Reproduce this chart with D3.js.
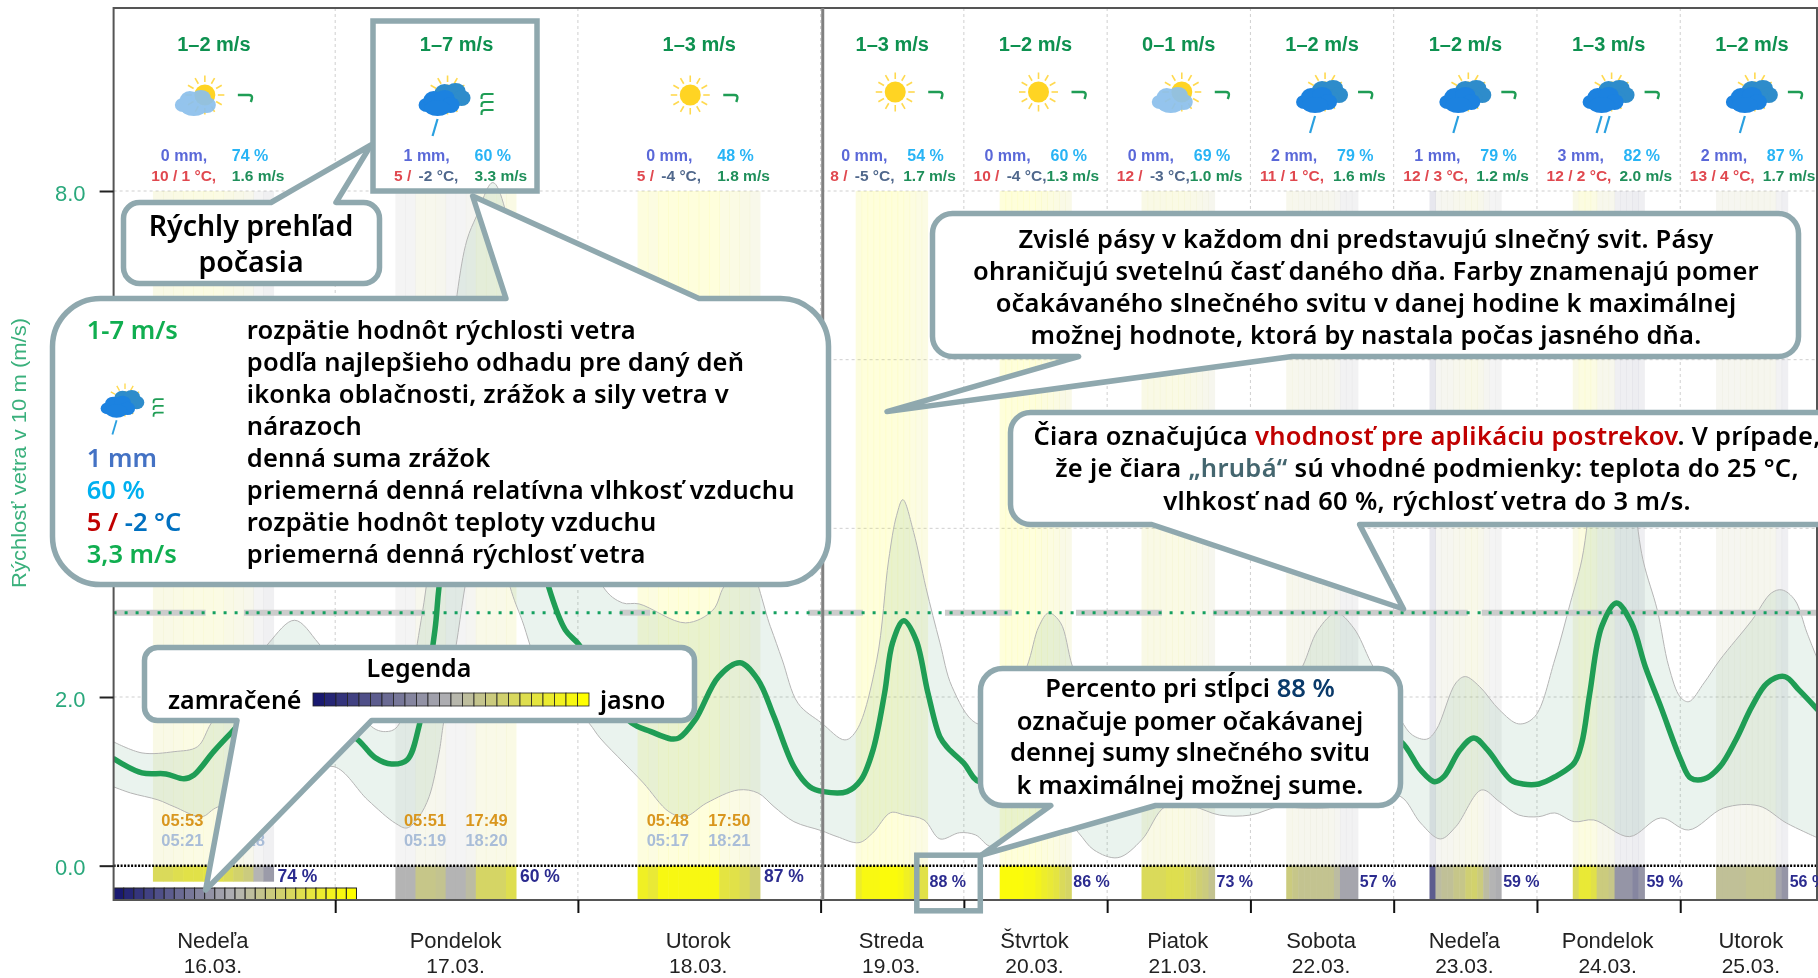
<!DOCTYPE html>
<html>
<head>
<meta charset="utf-8">
<script src="https://cdn.jsdelivr.net/npm/d3@7"></script>
<style>
  html, body { margin: 0; padding: 0; background: #fff; overflow: hidden; }
  text { font-family: "Liberation Sans", sans-serif; }
  .note text { font-family: "Noto Sans", sans-serif; font-weight: 600; fill: #000; }
</style>
</head>
<body>
<div id="chart"></div>
<script>
let dayNames = ['Nedeľa', 'Pondelok', 'Utorok', 'Streda', 'Štvrtok', 'Piatok', 'Sobota', 'Nedeľa', 'Pondelok', 'Utorok']
let dayDates = ['16.03.', '17.03.', '18.03.', '19.03.', '20.03.', '21.03.', '22.03.', '23.03.', '24.03.', '25.03.']
let windRange = ['1–2', '1–7', '1–3', '1–3', '1–2', '0–1', '1–2', '1–2', '1–3', '1–2']
let rainMm = [0, 1, 0, 0, 0, 0, 2, 1, 3, 2]
let humidity = [74, 60, 48, 54, 60, 69, 79, 79, 82, 87]
let tempHigh = [10, 5, 5, 8, 10, 12, 11, 12, 12, 13]
let tempLow = [1, -2, -4, -5, -4, -3, 1, 3, 2, 4]
let windAvg = ['1.6', '3.3', '1.8', '1.7', '1.3', '1.0', '1.6', '1.2', '2.0', '1.7']
let sunPercent = [74, 60, 87, 88, 86, 73, 57, 59, 59, 56]
let iconType = ['light', 'dark', 'sun', 'sun', 'sun', 'light', 'dark', 'dark', 'dark', 'dark']
let rainStreaks = [0, 1, 0, 0, 0, 0, 1, 1, 2, 1]
let barbCount = [1, 3, 1, 1, 1, 1, 1, 1, 1, 1]

let sunriseTimes = ['05:53', '05:51', '05:48']
let sunsetTimes = ['17:47', '17:49', '17:50']
let dawnTimes = ['05:21', '05:19', '05:17']
let duskTimes = ['18:18', '18:20', '18:21']

// sun band edges, in days since 16.03. 00:00
let sunStart = [0.249, 1.248, 2.246, 3.245, 4.25, 5.24, 6.25, 7.25, 8.25, 9.25]
let sunEnd = [0.746, 1.745, 2.75, 3.747, 4.75, 5.75, 6.75, 7.75, 8.75, 9.75]

// sunshine ratio for each daylight hour
let sunRatios = [
  [0.75, 0.75, 0.78, 0.8, 0.8, 0.82, 0.8, 0.75, 0.7, 0.65, 0.5, 0.42],
  [0.5, 0.5, 0.62, 0.62, 0.6, 0.5, 0.5, 0.55, 0.72, 0.72, 0.72, 0.78],
  [0.9, 0.85, 0.95, 0.95, 0.95, 0.95, 0.95, 0.95, 0.82, 0.8, 0.75, 0.68],
  [0.88, 0.95, 0.95, 0.95, 0.97, 0.97, 0.97, 0.95, 0.9, 0.85, 0.8, 0.8],
  [0.97, 0.97, 0.97, 0.97, 0.95, 0.95, 0.92, 0.88, 0.85, 0.82, 0.75, 0.72],
  [0.75, 0.75, 0.75, 0.75, 0.78, 0.78, 0.78, 0.75, 0.72, 0.68, 0.65, 0.6],
  [0.65, 0.62, 0.6, 0.6, 0.6, 0.6, 0.6, 0.6, 0.55, 0.45, 0.45, 0.45],
  [0.22, 0.55, 0.58, 0.58, 0.62, 0.62, 0.68, 0.7, 0.65, 0.55, 0.5, 0.48],
  [0.75, 0.85, 0.85, 0.8, 0.65, 0.65, 0.62, 0.4, 0.4, 0.4, 0.35, 0.4],
  [0.58, 0.58, 0.58, 0.58, 0.58, 0.6, 0.6, 0.6, 0.6, 0.6, 0.45, 0.4]
]

// thick stretches of the spraying line
let sprayStart = [0.093, 0.624, 2.173, 2.948, 3.868, 4.783, 5.738, 7.615]
let sprayEnd = [0.466, 1.37, 2.297, 3.295, 4.335, 5.383, 7.517, 9.965]

// wind speed, best estimate
let meanT = [0.085, 0.204, 0.303, 0.377, 0.418, 0.499, 0.571, 0.65, 0.75, 0.85, 0.95, 1.094, 1.166, 1.232, 1.296, 1.345, 1.411, 1.428, 1.52, 1.6, 1.68, 1.8, 1.879, 1.948, 2.005, 2.112, 2.221, 2.301, 2.384, 2.417, 2.483, 2.58, 2.668, 2.742, 2.808, 2.89, 2.955, 3.02, 3.184, 3.282, 3.366, 3.447, 3.502, 3.58, 3.666, 3.749, 3.832, 3.888, 3.998, 4.109, 4.3, 4.5, 4.7, 5.0, 5.25, 5.5, 5.8, 6.1, 6.45, 6.7, 6.9, 7.05, 7.188, 7.284, 7.35, 7.462, 7.56, 7.655, 7.818, 7.902, 8.013, 8.124, 8.26, 8.313, 8.369, 8.452, 8.555, 8.659, 8.756, 8.864, 9.004, 9.072, 9.168, 9.277, 9.388, 9.5, 9.609, 9.73, 9.828, 9.96]
let meanV = [1.274, 1.1, 1.088, 1.03, 1.076, 1.352, 1.574, 1.8, 1.9, 2.0, 1.8, 1.49, 1.278, 1.206, 1.254, 1.649, 2.796, 3.31, 5.2, 6.0, 5.8, 4.3, 3.31, 2.796, 2.618, 2.08, 1.693, 1.59, 1.503, 1.515, 1.728, 2.242, 2.405, 2.203, 1.767, 1.174, 0.937, 0.878, 0.878, 1.017, 1.372, 2.049, 2.642, 2.903, 2.678, 2.049, 1.53, 1.396, 1.218, 0.996, 1.2, 1.5, 1.45, 1.1, 0.85, 0.95, 1.0, 1.3, 1.75, 1.65, 1.55, 1.471, 1.135, 0.996, 1.056, 1.372, 1.515, 1.372, 1.017, 0.969, 0.969, 1.052, 1.218, 1.456, 2.049, 2.835, 3.116, 2.879, 2.361, 1.886, 1.254, 1.04, 1.028, 1.174, 1.491, 1.886, 2.167, 2.242, 2.084, 1.847]

// lower edge of the wind range
let lowT = [0.085, 0.157, 0.27, 0.336, 0.45, 0.507, 0.7, 0.85, 0.995, 1.134, 1.248, 1.296, 1.345, 1.387, 1.428, 1.444, 1.502, 1.535, 1.62, 1.72, 1.77, 1.85, 2.046, 2.091, 2.19, 2.27, 2.375, 2.441, 2.531, 2.661, 2.742, 2.808, 2.89, 3.006, 3.115, 3.268, 3.364, 3.489, 3.585, 3.722, 3.833, 3.971, 4.082, 4.193, 4.4, 4.55, 4.67, 4.8, 4.908, 5.075, 5.241, 5.406, 5.6, 5.785, 6.0, 6.2, 6.36, 6.6, 6.85, 7.05, 7.188, 7.325, 7.434, 7.614, 7.738, 7.873, 8.013, 8.124, 8.26, 8.397, 8.645, 8.864, 9.058, 9.304, 9.55, 9.741, 9.96]
let lowV = [0.937, 0.862, 0.78, 0.7, 0.581, 0.684, 0.9, 1.05, 1.174, 0.779, 0.503, 0.447, 0.581, 0.818, 1.337, 1.649, 2.68, 3.31, 4.6, 3.31, 2.91, 2.3, 1.69, 1.515, 1.218, 0.98, 0.64, 0.581, 0.744, 0.898, 0.862, 0.7, 0.522, 0.415, 0.344, 0.273, 0.388, 0.629, 0.601, 0.542, 0.317, 0.391, 0.364, 0.225, 0.4, 0.6, 0.62, 0.39, 0.186, 0.095, 0.305, 0.7, 0.7, 0.6, 0.6, 0.7, 0.684, 0.7, 0.85, 0.818, 0.506, 0.317, 0.463, 0.898, 0.759, 0.601, 0.581, 0.625, 0.522, 0.542, 0.344, 0.566, 0.423, 0.684, 0.708, 0.506, 0.329]

// upper edge of the wind range
let highT = [0.085, 0.204, 0.336, 0.433, 0.49, 0.6, 0.727, 0.833, 0.93, 1.04, 1.15, 1.207, 1.256, 1.354, 1.43, 1.502, 1.543, 1.582, 1.65, 1.75, 1.9, 2.103, 2.184, 2.252, 2.444, 2.556, 2.602, 2.69, 2.793, 2.842, 2.907, 3.006, 3.17, 3.253, 3.392, 3.475, 3.53, 3.574, 3.65, 3.735, 3.833, 3.917, 4.082, 4.25, 4.44, 4.523, 4.592, 4.675, 4.758, 4.9, 5.1, 5.25, 5.5, 5.8, 6.0, 6.2, 6.363, 6.47, 6.6, 6.72, 6.844, 7.05, 7.13, 7.23, 7.297, 7.434, 7.5, 7.6, 7.738, 7.873, 7.985, 8.124, 8.233, 8.313, 8.4, 8.5, 8.6, 8.74, 8.84, 8.92, 9.0, 9.06, 9.166, 9.277, 9.5, 9.636, 9.71, 9.8, 9.885, 9.96]
let highV = [1.471, 1.337, 1.352, 1.412, 1.693, 2.1, 2.642, 2.91, 2.642, 2.2, 1.649, 1.59, 1.649, 2.91, 4.7, 6.77, 7.42, 7.7, 8.1, 7.2, 5.2, 3.31, 3.116, 3.104, 2.879, 3.03, 3.31, 3.6, 2.835, 2.44, 1.926, 1.693, 1.491, 1.61, 2.44, 3.626, 4.15, 4.34, 3.95, 3.3, 2.642, 2.123, 1.693, 1.7, 2.361, 2.835, 2.997, 2.879, 2.361, 1.75, 1.5, 1.7, 1.8, 1.7, 1.75, 1.9, 2.361, 2.79, 2.997, 2.82, 2.4, 1.728, 1.55, 1.5, 1.61, 2.167, 2.242, 2.123, 1.847, 1.681, 1.768, 2.44, 3.116, 3.626, 4.6, 5.2, 5.0, 3.626, 3.03, 2.361, 2.0, 1.945, 2.167, 2.44, 2.91, 3.233, 3.27, 3.15, 2.76, 2.44]

let width = 1818
let height = 978

let svg = d3
  .select('#chart')
  .append('svg')
  .attr('width', width)
  .attr('height', height)
  .style('display', 'block')

let plot = { left: 113.6, right: 1817, top: 8, bottom: 900 }

// the first three days get more room than the rest
let x = d3.scaleLinear().domain([0, 3, 10]).range([92.5, 820.6, 1823.5])
let y = d3.scaleLinear().domain([-0.407, 10.17]).range([plot.bottom, plot.top])

let sunColor = d3
  .scaleLinear()
  .domain([0, 0.5, 1])
  .range(['#191970', '#b4b4b4', '#ffff00'])

let noteStroke = '#8fa8ae'
let green = '#1f9d55'

svg
  .append('defs')
  .append('clipPath')
  .attr('id', 'plot-clip')
  .append('rect')
  .attr('x', plot.left)
  .attr('y', plot.top)
  .attr('width', plot.right - plot.left)
  .attr('height', plot.bottom - plot.top)

let chart = svg.append('g').style('filter', 'blur(0.4px)')

// grid
chart
  .selectAll('.grid-y')
  .data([2, 4, 6, 8])
  .enter()
  .append('line')
  .attr('class', 'grid-y')
  .attr('x1', plot.left)
  .attr('x2', plot.right)
  .attr('y1', d => y(d))
  .attr('y2', d => y(d))
  .attr('stroke', '#cfcfcf')
  .attr('stroke-dasharray', '3,3')

chart
  .selectAll('.grid-x')
  .data(d3.range(1, 10))
  .enter()
  .append('line')
  .attr('class', 'grid-x')
  .attr('x1', d => x(d))
  .attr('x2', d => x(d))
  .attr('y1', plot.top)
  .attr('y2', plot.bottom)
  .attr('stroke', '#cfcfcf')
  .attr('stroke-dasharray', '3,3')

// sunshine bands, pale above zero and full colour below it
sunRatios.forEach((ratios, i) => {
  let step = (sunEnd[i] - sunStart[i]) / ratios.length
  let band = chart.append('g')
  band
    .selectAll('.pale')
    .data(ratios)
    .enter()
    .append('rect')
    .attr('x', (d, h) => x(sunStart[i] + h * step))
    .attr('width', x(sunStart[i] + step) - x(sunStart[i]) + 0.5)
    .attr('y', y(8))
    .attr('height', y(0) - y(8))
    .attr('fill', d => sunColor(d))
    .attr('opacity', 0.15)
  band
    .selectAll('.strong')
    .data(ratios)
    .enter()
    .append('rect')
    .attr('x', (d, h) => x(sunStart[i] + h * step))
    .attr('width', x(sunStart[i] + step) - x(sunStart[i]) + 0.5)
    .attr('y', y(0))
    .attr('height', i === 0 ? y(-0.19) - y(0) : y(-0.4) - y(0))
    .attr('fill', d => sunColor(d))
})

// wind
let windLine = d3
  .line()
  .x(d => x(d[0]))
  .y(d => y(d[1]))
  .curve(d3.curveCatmullRom.alpha(0.5))

let highPoints = d3.zip(highT, highV)
let lowPoints = d3.zip(lowT, lowV).reverse()

let wind = chart.append('g').attr('clip-path', 'url(#plot-clip)')

wind
  .append('path')
  .attr('d', windLine(highPoints) + 'L' + windLine(lowPoints).slice(1) + 'Z')
  .attr('fill', '#2e8b57')
  .attr('fill-opacity', 0.1)
  .attr('stroke', '#b5b5b5')
  .attr('stroke-width', 1)

// spraying line
wind
  .selectAll('.spray')
  .data(d3.zip(sprayStart, sprayEnd))
  .enter()
  .append('line')
  .attr('class', 'spray')
  .attr('x1', d => x(d[0]))
  .attr('x2', d => x(d[1]))
  .attr('y1', y(3))
  .attr('y2', y(3))
  .attr('stroke', '#cccccc')
  .attr('stroke-width', 6)

wind
  .append('line')
  .attr('x1', plot.left)
  .attr('x2', plot.right)
  .attr('y1', y(3))
  .attr('y2', y(3))
  .attr('stroke', '#14a060')
  .attr('stroke-width', 3)
  .attr('stroke-dasharray', '3,8')

wind
  .append('path')
  .attr('d', windLine(d3.zip(meanT, meanV)))
  .attr('fill', 'none')
  .attr('stroke', green)
  .attr('stroke-width', 5.5)
  .attr('stroke-linejoin', 'round')

// zero line
chart
  .append('line')
  .attr('x1', plot.left)
  .attr('x2', plot.right)
  .attr('y1', y(0))
  .attr('y2', y(0))
  .attr('stroke', '#000')
  .attr('stroke-width', 2.5)
  .attr('stroke-dasharray', '2,1.5')

// colour bar in the corner
let barCells = d3.range(24)
chart
  .selectAll('.bar-cell')
  .data(barCells)
  .enter()
  .append('rect')
  .attr('class', 'bar-cell')
  .attr('x', d => plot.left + d * 10.12)
  .attr('y', 888)
  .attr('width', 10.12)
  .attr('height', 12)
  .attr('fill', d => sunColor(d / 23))
  .attr('stroke', '#222')
  .attr('stroke-width', 1)

// frame and current time
chart
  .append('rect')
  .attr('x', plot.left)
  .attr('y', plot.top)
  .attr('width', plot.right - plot.left)
  .attr('height', plot.bottom - plot.top)
  .attr('fill', 'none')
  .attr('stroke', '#555')
  .attr('stroke-width', 2)

chart
  .append('line')
  .attr('x1', x(3.015))
  .attr('x2', x(3.015))
  .attr('y1', plot.top)
  .attr('y2', plot.bottom)
  .attr('stroke', '#808080')
  .attr('stroke-width', 3)

// axes
let yAxis = d3.axisLeft(y).tickValues([0, 2, 4, 6, 8]).tickFormat(d3.format('.1f')).tickSize(14).tickPadding(14)
let yAxisG = chart
  .append('g')
  .attr('transform', 'translate(' + plot.left + ',0)')
  .call(yAxis)
yAxisG.select('.domain').remove()
yAxisG.selectAll('.tick line').attr('stroke', '#222').attr('stroke-width', 2)
yAxisG
  .selectAll('.tick text')
  .attr('fill', '#2aa87c')
  .attr('font-size', 22)
  .attr('dy', '0.42em')
  .style('font-family', '"Liberation Sans"')

let xAxis = d3.axisBottom(x).tickValues(d3.range(1, 10)).tickFormat('').tickSize(13)
let xAxisG = chart
  .append('g')
  .attr('transform', 'translate(0,' + plot.bottom + ')')
  .call(xAxis)
xAxisG.select('.domain').remove()
xAxisG.selectAll('.tick line').attr('stroke', '#111').attr('stroke-width', 2)

chart
  .append('text')
  .text('Rýchlosť vetra v 10 m (m/s)')
  .attr('transform', 'translate(26,453) rotate(-90)')
  .attr('text-anchor', 'middle')
  .attr('font-size', 21)
  .attr('textLength', 270)
  .attr('lengthAdjust', 'spacingAndGlyphs')
  .attr('fill', '#3ab07c')

// day labels
chart
  .selectAll('.day-name')
  .data(dayNames)
  .enter()
  .append('text')
  .attr('class', 'day-name')
  .text(d => d)
  .attr('x', (d, i) => x(i + 0.5) - 1)
  .attr('y', 948)
  .attr('text-anchor', 'middle')
  .attr('font-size', 22)
  .attr('fill', '#222')

chart
  .selectAll('.day-date')
  .data(dayDates)
  .enter()
  .append('text')
  .attr('class', 'day-date')
  .text(d => d)
  .attr('x', (d, i) => x(i + 0.5) - 1)
  .attr('y', 973)
  .attr('text-anchor', 'middle')
  .attr('font-size', 21)
  .attr('fill', '#222')

// sunshine percent next to each band
chart
  .selectAll('.sun-percent')
  .data(sunPercent)
  .enter()
  .append('text')
  .attr('class', 'sun-percent')
  .text(d => d + ' %')
  .attr('x', (d, i) => x(sunEnd[i]) + (i < 3 ? 4 : 2))
  .attr('y', (d, i) => (i < 3 ? 882 : 887))
  .attr('font-size', (d, i) => (i < 3 ? 17.5 : 16))
  .attr('font-weight', 'bold')
  .attr('fill', '#2b2b8f')

// sunrise and sunset
function timeRow(times, dx, rowY, color) {
  chart
    .selectAll(null)
    .data(times)
    .enter()
    .append('text')
    .text(d => d)
    .attr('x', (d, i) => x(i + 0.5) + dx)
    .attr('y', rowY)
    .attr('text-anchor', 'middle')
    .attr('font-size', 16.5)
    .attr('font-weight', 'bold')
    .attr('fill', color)
}
timeRow(sunriseTimes, -31.5, 826, '#d9961e')
timeRow(sunsetTimes, 30, 826, '#d9961e')
timeRow(dawnTimes, -31.5, 846, '#a9bdd8')
timeRow(duskTimes, 30, 846, '#a9bdd8')

// daily summary on top
let summary = chart
  .selectAll('.summary')
  .data(dayNames)
  .enter()
  .append('g')
  .attr('class', 'summary')
  .attr('transform', (d, i) => 'translate(' + x(i + 0.5) + ',0)')

summary
  .append('text')
  .text((d, i) => windRange[i] + ' m/s')
  .attr('y', 51)
  .attr('text-anchor', 'middle')
  .attr('font-size', 20)
  .attr('font-weight', 'bold')
  .attr('fill', '#0e9150')

summary
  .append('text')
  .text((d, i) => rainMm[i] + ' mm,')
  .attr('x', (d, i) => (i < 3 ? -53 : -51))
  .attr('y', 161)
  .attr('font-size', 16)
  .attr('font-weight', 'bold')
  .attr('fill', '#5a68d8')

summary
  .append('text')
  .text((d, i) => humidity[i] + ' %')
  .attr('x', (d, i) => (i < 3 ? 18 : 15))
  .attr('y', 161)
  .attr('font-size', 16)
  .attr('font-weight', 'bold')
  .attr('fill', '#28b4f5')

let tempText = summary
  .append('text')
  .attr('x', (d, i) => (i < 3 ? -62.5 : -62))
  .attr('y', 181)
  .attr('font-size', 15.5)
  .attr('font-weight', 'bold')
tempText
  .append('tspan')
  .text((d, i) => tempHigh[i] + ' / ' + (tempLow[i] > 0 ? tempLow[i] + ' °C,' : ''))
  .attr('fill', '#e0484f')
tempText
  .append('tspan')
  .text((d, i) => (tempLow[i] < 0 ? ' ' + tempLow[i] + ' °C,' : ''))
  .attr('dx', 3)
  .attr('fill', '#50688c')

summary
  .append('text')
  .text((d, i) => windAvg[i] + ' m/s')
  .attr('x', (d, i) => (i < 3 ? 18 : 11))
  .attr('y', 181)
  .attr('font-size', 15.5)
  .attr('font-weight', 'bold')
  .attr('fill', '#1f8f5a')

// weather icon: sun, cloud, rain streaks and wind barbs
function drawSun(g) {
  g.selectAll(null)
    .data(d3.range(12))
    .enter()
    .append('line')
    .attr('x1', d => 13 * Math.cos((d * Math.PI) / 6))
    .attr('y1', d => 13 * Math.sin((d * Math.PI) / 6))
    .attr('x2', d => 19.5 * Math.cos((d * Math.PI) / 6))
    .attr('y2', d => 19.5 * Math.sin((d * Math.PI) / 6))
    .attr('stroke', '#ffd94f')
    .attr('stroke-width', 1.6)
  g.append('circle').attr('r', 10.5).attr('fill', '#ffd423')
}

let cloudLobes = [
  [-13, 2, 8, 7],
  [-6, -3, 10, 9],
  [5, -5, 10, 8],
  [11, 2, 9, 8],
  [-2, 5, 13, 8]
]

function drawCloud(g, dx, dy, scale, color, opacity) {
  g.append('g')
    .attr('transform', 'translate(' + dx + ',' + dy + ') scale(' + scale + ')')
    .attr('opacity', opacity)
    .selectAll('ellipse')
    .data(cloudLobes)
    .enter()
    .append('ellipse')
    .attr('cx', d => d[0])
    .attr('cy', d => d[1])
    .attr('rx', d => d[2])
    .attr('ry', d => d[3])
    .attr('fill', color)
}

function drawBarbs(g, count, dx, dy) {
  let barbs = g.append('g').attr('transform', 'translate(' + dx + ',' + dy + ')')
  if (count === 1) {
    barbs
      .append('path')
      .attr('d', 'M-7,-3 H4 Q8,-3 7,1 L6,4')
      .attr('fill', 'none')
      .attr('stroke', green)
      .attr('stroke-width', 2.4)
  } else {
    // gusty days stack the barbs upright
    barbs
      .selectAll('path')
      .data(d3.range(count))
      .enter()
      .append('path')
      .attr('d', d => 'M6,' + (d * 8 - 10) + ' H-3 Q-6,' + (d * 8 - 10) + ' -6,' + (d * 8 - 7) + ' V' + (d * 8 - 5))
      .attr('fill', 'none')
      .attr('stroke', green)
      .attr('stroke-width', 2.1)
  }
}

function drawIcon(g, type, streaks, barbs) {
  if (type !== 'dark') drawSun(g)
  if (type === 'light') drawCloud(g, -9, 8, 1, '#8cc0ec', 0.93)
  if (type === 'dark') {
    drawSun(g)
    drawCloud(g, 3, 1, 1, '#2e8ccb', 1)
    drawCloud(g, -8, 8, 1, '#1c82e0', 1)
  }
  g.selectAll(null)
    .data(d3.range(streaks))
    .enter()
    .append('line')
    .attr('x1', d => -10 + d * 8)
    .attr('y1', 24)
    .attr('x2', d => -15 + d * 8)
    .attr('y2', 41)
    .attr('stroke', '#2aa0e0')
    .attr('stroke-width', 2.2)
  drawBarbs(g, barbs, 40, barbs === 1 ? 3 : 9)
}

summary.each(function (d, i) {
  let icon = d3
    .select(this)
    .append('g')
    .attr('transform', 'translate(' + (i < 3 ? -9 : 3) + ',' + (i < 3 ? 95 : 92) + ')')
  drawIcon(icon, iconType[i], rainStreaks[i], barbCount[i])
})

// callouts, given by their outer edge
function calloutPath(b) {
  let r = b.r
  let x0 = b.x0 + 2.5
  let x1 = b.x1 - 2.5
  let y0 = b.y0 + 2.5
  let y1 = b.y1 - 2.5
  let p = d3.path()
  p.moveTo(x0 + r, y0)
  if (b.top) {
    p.lineTo(b.top[0], y0)
    p.lineTo(b.top[1], b.top[2])
    p.lineTo(b.top[3], y0)
  }
  p.lineTo(x1 - r, y0)
  p.arcTo(x1, y0, x1, y0 + r, r)
  p.lineTo(x1, y1 - r)
  p.arcTo(x1, y1, x1 - r, y1, r)
  if (b.bottom) {
    p.lineTo(b.bottom[3], y1)
    p.lineTo(b.bottom[1], b.bottom[2])
    p.lineTo(b.bottom[0], y1)
  }
  p.lineTo(x0 + r, y1)
  p.arcTo(x0, y1, x0, y1 - r, r)
  p.lineTo(x0, y0 + r)
  p.arcTo(x0, y0, x0 + r, y0, r)
  p.closePath()
  return p.toString()
}

let notes = svg.append('g').attr('class', 'note')

function drawCallout(b) {
  notes
    .append('path')
    .attr('d', calloutPath(b))
    .attr('fill', '#fff')
    .attr('stroke', noteStroke)
    .attr('stroke-width', 5.5)
    .attr('stroke-linejoin', 'round')
}

function noteText(str, px, py, size, anchor, color) {
  return notes
    .append('text')
    .text(str)
    .attr('x', px)
    .attr('y', py)
    .attr('font-size', size)
    .attr('text-anchor', anchor || 'middle')
    .style('fill', color || '#000')
}

function noteRuns(runs, px, py, size) {
  let t = notes
    .append('text')
    .attr('x', px)
    .attr('y', py)
    .attr('font-size', size)
    .attr('text-anchor', 'middle')
  runs.forEach(run => {
    t.append('tspan').text(run[0]).style('fill', run[1] || '#000')
  })
  return t
}

// quick overview
drawCallout({ x0: 121, x1: 382, y0: 200, y1: 286, r: 16, top: [271, 371, 145, 336] })
noteText('Rýchly prehľad', 251, 236, 28.5)
noteText('počasia', 251, 272, 28.5)

// big help box
drawCallout({ x0: 50, x1: 831, y0: 296, y1: 587, r: 48, top: [506, 472.6, 196, 699] })

let helpLeft = [
  ['1-7 m/s', '#10ae50'],
  null,
  null,
  null,
  ['1 mm', '#4472c4'],
  ['60 %', '#00b0f0'],
  null,
  ['3,3 m/s', '#10ae50']
]
let helpRight = [
  'rozpätie hodnôt rýchlosti vetra',
  'podľa najlepšieho odhadu pre daný deň',
  'ikonka oblačnosti, zrážok a sily vetra v',
  'nárazoch',
  'denná suma zrážok',
  'priemerná denná relatívna vlhkosť vzduchu',
  'rozpätie hodnôt teploty vzduchu',
  'priemerná denná rýchlosť vetra'
]
helpRight.forEach((line, i) => {
  let rowY = 339 + i * 32
  noteText(line, 246.8, rowY, 25.5, 'start').attr('letter-spacing', 0.17)
  if (helpLeft[i]) noteText(helpLeft[i][0], 86.7, rowY, 25.5, 'start', helpLeft[i][1])
})
let tempHelp = noteText('', 86.7, 339 + 6 * 32, 25.5, 'start')
tempHelp.append('tspan').text('5 / ').style('fill', '#c00000')
tempHelp.append('tspan').text('-2 °C').style('fill', '#0070c0')

let helpIcon = notes.append('g').attr('transform', 'translate(125,400) scale(0.84)')
drawIcon(helpIcon, 'dark', 1, 3)

// legend
drawCallout({ x0: 142, x1: 697, y0: 645, y1: 723, r: 13, bottom: [237, 205.6, 890, 371.7] })
noteText('Legenda', 419, 677, 25)
noteText('zamračené', 168, 709, 25, 'start')
noteText('jasno', 600, 709, 25, 'start')
notes
  .selectAll('.legend-cell')
  .data(barCells)
  .enter()
  .append('rect')
  .attr('x', d => 313 + d * 11.5)
  .attr('y', 693)
  .attr('width', 11.5)
  .attr('height', 13)
  .attr('fill', d => sunColor(d / 23))
  .attr('stroke', '#222')
  .attr('stroke-width', 0.8)

// sunshine bands note
drawCallout({ x0: 930, x1: 1801, y0: 211, y1: 359, r: 20, bottom: [1078.6, 887, 411.6, 1292] })
let bandLines = [
  'Zvislé pásy v každom dni predstavujú slnečný svit. Pásy',
  'ohraničujú svetelnú časť daného dňa. Farby znamenajú pomer',
  'očakávaného slnečného svitu v danej hodine k maximálnej',
  'možnej hodnote, ktorá by nastala počas jasného dňa.'
]
bandLines.forEach((line, i) => noteText(line, 1366, 248 + i * 32, 25.5).attr('letter-spacing', 0.2))

// spraying note
drawCallout({ x0: 1008, x1: 1840, y0: 410, y1: 527, r: 20, bottom: [1151.8, 1403.5, 609, 1359.6] })
noteRuns([
  ['Čiara označujúca '],
  ['vhodnosť pre aplikáciu postrekov', '#c00000'],
  ['. V prípade,']
], 1427, 445, 25.5).attr('letter-spacing', 0.3)
noteRuns([
  ['že je čiara '],
  ['„hrubá“', '#44666f'],
  [' sú vhodné podmienky: teplota do 25 °C,']
], 1427, 477, 25.5).attr('letter-spacing', 0.3)
noteText('vlhkosť nad 60 %, rýchlosť vetra do 3 m/s.', 1427, 510, 25.5).attr('letter-spacing', 0.3)

// percent note
drawCallout({ x0: 978, x1: 1403, y0: 666, y1: 808, r: 22, bottom: [1050.8, 981.6, 855, 1155.6] })
noteRuns([['Percento pri stĺpci '], ['88 %', '#0a3a6a']], 1190, 697, 25.5)
noteText('označuje pomer očakávanej', 1190, 730, 25.5)
noteText('dennej sumy slnečného svitu', 1190, 761, 25.5)
noteText('k maximálnej možnej sume.', 1190, 794, 25.5)

// highlight frames
notes
  .append('rect')
  .attr('x', 373)
  .attr('y', 21)
  .attr('width', 164)
  .attr('height', 170)
  .attr('fill', 'none')
  .attr('stroke', noteStroke)
  .attr('stroke-width', 5.5)

notes
  .append('rect')
  .attr('x', 916.8)
  .attr('y', 855.2)
  .attr('width', 63.5)
  .attr('height', 55.6)
  .attr('fill', 'none')
  .attr('stroke', noteStroke)
  .attr('stroke-width', 5.5)
</script>
</body>
</html>
